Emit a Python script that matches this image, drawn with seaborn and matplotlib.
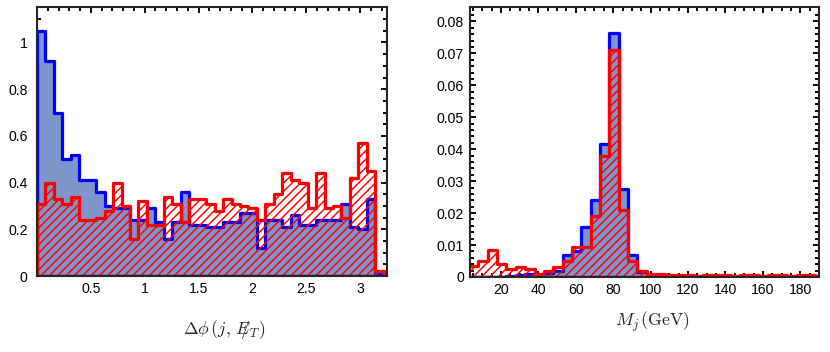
import numpy as np
import pandas as pd
import matplotlib
matplotlib.use("Agg")
import matplotlib.pyplot as plt
import seaborn as sns

# delta phi histogram (41 bins of width pi/40)
phi_blue = [1.05, 0.92, 0.70, 0.50, 0.52, 0.41, 0.41, 0.36, 0.30, 0.29,
            0.29, 0.24, 0.24, 0.29, 0.23, 0.16, 0.23, 0.36, 0.22, 0.22,
            0.21, 0.21, 0.23, 0.23, 0.27, 0.27, 0.12, 0.24, 0.24, 0.21,
            0.26, 0.22, 0.22, 0.24, 0.24, 0.24, 0.31, 0.21, 0.20, 0.33,
            0.01]
phi_red = [0.31, 0.40, 0.33, 0.31, 0.34, 0.24, 0.24, 0.25, 0.28, 0.40,
           0.30, 0.16, 0.32, 0.22, 0.22, 0.34, 0.31, 0.23, 0.33, 0.33,
           0.31, 0.28, 0.33, 0.31, 0.30, 0.29, 0.24, 0.31, 0.35, 0.44,
           0.41, 0.40, 0.29, 0.44, 0.29, 0.30, 0.25, 0.42, 0.57, 0.45,
           0.02]

# jet mass histogram (5 GeV bins starting at 3 GeV)
mj_blue = [0, 0, 0, 0, 0.0003, 0.0006, 0.001, 0.001, 0.0012, 0.002,
           0.007, 0.008, 0.0155, 0.024, 0.0415, 0.0765, 0.0275, 0.007, 0.0015, 0.0006,
           0.0003, 0.0002, 0.0002, 0.0001, 0.0002, 0.0001, 0.0002, 0.0001, 0.0001, 0.0002,
           0.0001, 0.0001, 0.0002, 0.0001, 0.0001, 0.0001, 0.0002, 0.0001]
mj_red = [0.0035, 0.005, 0.0085, 0.004, 0.0026, 0.003, 0.0025, 0.001, 0.002, 0.003,
          0.005, 0.0094, 0.0094, 0.019, 0.038, 0.071, 0.021, 0.005, 0.002, 0.001,
          0.0008, 0.0006, 0.0005, 0.0005, 0.0004, 0.0005, 0.0006, 0.0005, 0.0004, 0.0005,
          0.0005, 0.0004, 0.0005, 0.0005, 0.0004, 0.0005, 0.0005, 0.0004]

phi_ticks = [0.5, 1, 1.5, 2, 2.5, 3]
phi_ticklabels = ["0.5", "1", "1.5", "2", "2.5", "3"]
phi_yticks = [0, 0.2, 0.4, 0.6, 0.8, 1.0]
phi_yticklabels = ["0", "0.2", "0.4", "0.6", "0.8", "1"]
mj_ticks = [20, 40, 60, 80, 100, 120, 140, 160, 180]
mj_yticks = [0, 0.01, 0.02, 0.03, 0.04, 0.05, 0.06, 0.07, 0.08]
mj_yticklabels = ["0", "0.01", "0.02", "0.03", "0.04", "0.05", "0.06", "0.07", "0.08"]

sns.set_style("ticks")
plt.rcParams["font.family"] = ["Liberation Sans", "DejaVu Sans"]
plt.rcParams["mathtext.fontset"] = "cm"
plt.rcParams["hatch.linewidth"] = 1.4

DPI = 75
fig = plt.figure(figsize=(830 / DPI, 352 / DPI), dpi=DPI)
ax1 = fig.add_axes([37 / 830, 76 / 352, 350 / 830, 269 / 352])
ax2 = fig.add_axes([470 / 830, 75 / 352, 349 / 830, 270 / 352])

blue_fill = "#7d95cb"


def draw(ax, edges, blue, red):
    centers = [(a + b) / 2 for a, b in zip(edges[:-1], edges[1:])]
    df = pd.DataFrame({"x": centers, "blue": blue, "red": red})
    sns.histplot(data=df, x="x", weights="blue", bins=list(edges), element="step",
                 fill=True, ax=ax, color="#0000ff", facecolor=blue_fill,
                 edgecolor="#0000ff", alpha=1, linewidth=3.1)
    sns.histplot(data=df, x="x", weights="red", bins=list(edges), element="step",
                 fill=True, ax=ax, color="#ff0000", facecolor="none",
                 edgecolor="#ff0000", hatch="///", linewidth=3.1)
    ax.set_ylabel("")
    for s in ax.spines.values():
        s.set_linewidth(2)
        s.set_zorder(5)
    ax.tick_params(which="both", direction="in", top=True, right=True,
                   width=1.8, labelsize=13.4, colors="black")
    ax.tick_params(which="major", length=6)
    ax.tick_params(which="minor", length=3.5)


phi_edges = [k * np.pi / 40 for k in range(len(phi_blue) + 1)]
draw(ax1, phi_edges, phi_blue, phi_red)
ax1.set_xlim(0, 3.25)
ax1.set_ylim(0, 1.152)
ax1.set_xticks(phi_ticks, phi_ticklabels)
ax1.set_xticks(np.arange(0.1, 3.25, 0.1), minor=True)
ax1.set_yticks(phi_yticks, phi_yticklabels)
ax1.set_yticks(np.arange(0.05, 1.15, 0.05), minor=True)
ax1.tick_params(axis="x", pad=6)
ax1.tick_params(axis="y", pad=9)
ax1.set_xlabel(r"$\Delta\phi\,(j,\,E\!\!\!/_T)$", fontsize=17)
ax1.xaxis.set_label_coords(0.534, -0.155)

mj_edges = [3 + 5 * k for k in range(len(mj_blue) + 1)]
draw(ax2, mj_edges, mj_blue, mj_red)
ax2.set_xlim(3.5, 190)
ax2.set_ylim(0, 0.0845)
ax2.set_xticks(mj_ticks, [str(t) for t in mj_ticks])
ax2.set_xticks(np.arange(5, 190, 5), minor=True)
ax2.set_yticks(mj_yticks, mj_yticklabels)
ax2.set_yticks(np.arange(0.002, 0.084, 0.002), minor=True)
ax2.tick_params(axis="x", pad=6)
ax2.tick_params(axis="y", pad=6)
ax2.set_xlabel(r"$M_j\,(\mathrm{GeV})$", fontsize=17)
ax2.xaxis.set_label_coords(0.524, -0.12)

fig.savefig("out.png", dpi=DPI)
